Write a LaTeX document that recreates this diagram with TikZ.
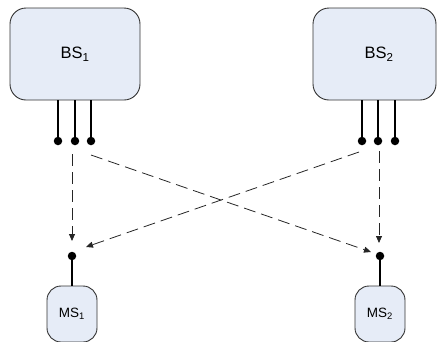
\documentclass[tikz,border=0pt]{standalone}
\usepackage{fontspec}
\setmainfont{Liberation Sans}
\usetikzlibrary{arrows.meta}
\definecolor{boxfill}{HTML}{E6ECF7}
\definecolor{boxline}{HTML}{333333}
\begin{document}
\begin{tikzpicture}[x=1pt,y=-1pt,
  bsbox/.style={draw=boxline, line width=0.9pt, fill=boxfill, rounded corners=16pt,
    minimum height=92pt, inner sep=0pt, font=\fontsize{16.5}{19}\selectfont},
  msbox/.style={draw=boxline, line width=0.9pt, fill=boxfill, rounded corners=14pt,
    minimum width=50pt, minimum height=56pt, inner sep=0pt, font=\fontsize{13.5}{16}\selectfont},
  antenna/.style={line width=2.4pt, black},
  tip/.style={circle, fill=black, minimum size=8.5pt, inner sep=0pt},
  link/.style={draw=black!85, line width=0.8pt, dash pattern=on 12pt off 6pt,
    -{Triangle[length=7pt,width=6pt]}}
]
\useasboundingbox (0,0) rectangle (437,341);
% base stations
\node[bsbox, minimum width=130pt] (bs1) at (75,54) {BS\textsubscript{1}};
\node[bsbox, minimum width=123pt] (bs2) at (374.5,54) {\hspace*{9pt}BS\textsubscript{2}};
% mobile stations
\node[msbox] (ms1) at (72,314) {MS\textsubscript{1}};
\node[msbox] (ms2) at (380,314) {MS\textsubscript{2}};
% antenna dots
\node[tip] (a1) at (58,141) {};
\node[tip] (a2) at (75,141) {};
\node[tip] (a3) at (91,141) {};
\node[tip] (b1) at (362,141) {};
\node[tip] (b2) at (378,141) {};
\node[tip] (b3) at (395,141) {};
\node[tip] (m1) at (72,256) {};
\node[tip] (m2) at (380,256) {};
% antenna stems
\foreach \n in {a1,a2,a3,b1,b2,b3}{
  \draw[antenna] (\n.center) -- (\n.center |- bs1.south);
}
\draw[antenna] (m1.center) -- (ms1.north);
\draw[antenna] (m2.center) -- (ms2.north);
% link end points
\coordinate (s1) at (72,154);
\coordinate (e1) at (72,241);
\coordinate (s2) at (91,155);
\coordinate (e2) at (371,252);
\coordinate (s3) at (359,152);
\coordinate (e3) at (86,247);
\coordinate (s4) at (379,151);
\coordinate (e4) at (379,243);
\draw[link] (s1) -- (e1);
\draw[link] (s2) -- (e2);
\draw[link] (s3) -- (e3);
\draw[link] (s4) -- (e4);
\end{tikzpicture}
\end{document}
